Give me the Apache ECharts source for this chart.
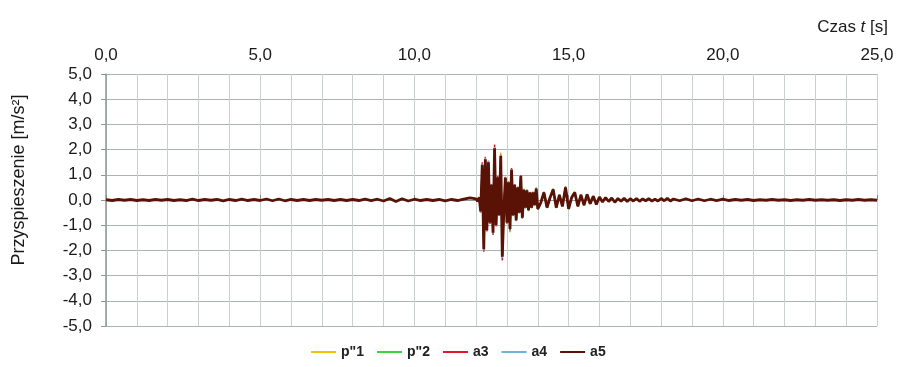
<!DOCTYPE html>
<html>
<head>
<meta charset="utf-8">
<script src="https://cdn.jsdelivr.net/npm/echarts@6/dist/echarts.min.js"></script>
<style>html,body{margin:0;padding:0;background:#fff}#c{width:897px;height:367px}</style>
</head>
<body>
<div id="c"></div>
<script>
// Time segments: [start, step] for each block of samples
const segQuiet1 = [0.0, 0.2];   // 0.0 .. 11.8
const segBurst  = [12.0, 0.05]; // 12.0 .. 14.0
const segDecay  = [14.1, 0.1];  // 14.1 .. 18.4
const segQuiet2 = [18.6, 0.2];  // 18.6 .. 25.0

// a5 values (m/s^2)
const a5Quiet1 = [0.01,-0.02,0.02,-0.01,0.02,-0.02,0.01,-0.02,0.02,-0.01,0.02,-0.02,0.01,-0.02,0.03,-0.02,0.02,-0.01,0.02,-0.03,
  0.02,-0.02,0.03,-0.02,0.02,-0.02,0.04,-0.03,0.04,-0.03,0.02,-0.02,0.02,-0.02,0.02,-0.01,0.02,-0.02,0.02,-0.02,
  0.02,-0.02,0.03,-0.02,0.03,-0.04,0.06,-0.06,0.05,-0.04,0.03,-0.02,0.02,-0.02,0.02,-0.03,0.02,-0.02,0.03,0.08];
const a5Burst = [0.04,-0.05,0.10,-0.45,1.40,-1.95,1.62,-1.20,1.50,-0.90,0.60,-1.30,2.05,-1.00,0.90,-0.60,1.75,-2.25,-0.40,0.88,
  -0.90,0.70,-1.15,1.20,-0.60,0.60,-0.80,0.50,-0.50,0.95,-0.70,0.40,-0.30,0.38,-0.40,0.30,-0.30,0.30,-0.20,0.45,-0.35];
const a5Decay = [-0.10,0.30,-0.30,0.10,0.42,-0.30,0.20,-0.25,0.50,-0.35,0.10,0.30,-0.25,0.20,-0.20,0.22,-0.15,0.15,-0.18,0.12,
  -0.08,0.10,-0.06,0.08,-0.09,0.06,-0.05,0.07,-0.06,0.05,-0.04,0.06,-0.05,0.04,-0.03,0.05,-0.04,0.03,-0.04,0.06,-0.03,0.07,-0.04,0.04];
const a5Quiet2 = [-0.03,0.05,-0.03,0.04,-0.03,0.03,-0.02,0.03,-0.02,0.02,-0.01,0.02,-0.02,0.01,-0.01,0.02,-0.01,0.01,-0.02,0.01,
  -0.01,0.02,-0.01,0.01,-0.01,0.01,-0.02,0.01,-0.01,0.02,-0.01,0.01,-0.01];

// other records in the active window (burst + first 20 decay samples)
const p1Burst = [0.04,-0.04,0.12,-0.42,1.38,-1.90,1.58,-1.15,1.52,-0.88,0.62,-1.25,1.98,-0.95,0.92,-0.58,1.88,-2.20,-0.38,0.90,
  -0.88,0.72,-1.12,1.18,-0.62,0.58,-0.78,0.52,-0.48,0.92,-0.68,0.42,-0.32,0.40,-0.38,0.32,-0.28,0.32,-0.22,0.44,-0.33];
const p1Decay = [-0.12,0.31,-0.28,0.12,0.40,-0.31,0.21,-0.24,0.49,-0.33,0.11,0.29,-0.26,0.21,-0.19,0.21,-0.16,0.14,-0.17,0.11];
const p2Burst = [0.06,-0.06,0.10,-0.48,1.36,-1.92,1.60,-1.22,1.48,-0.92,0.64,-1.28,2.00,-1.02,0.94,-0.62,1.72,-2.22,-0.42,0.90,
  -0.92,0.74,-1.28,1.22,-0.64,0.62,-0.84,0.54,-0.52,0.97,-0.74,0.44,-0.34,0.42,-0.44,0.32,-0.33,0.33,-0.23,0.50,-0.38];
const p2Decay = [-0.11,0.33,-0.32,0.12,0.46,-0.32,0.22,-0.27,0.55,-0.37,0.12,0.33,-0.27,0.22,-0.22,0.24,-0.16,0.17,-0.19,0.13];
const a3Burst = [0.05,-0.06,0.12,-0.50,1.50,-2.05,1.72,-1.25,1.55,-0.95,0.62,-1.39,2.20,-1.05,0.95,-0.62,1.80,-2.40,-0.42,0.92,
  -0.94,0.72,-1.20,1.27,-0.62,0.62,-0.82,0.50,-0.52,0.99,-0.72,0.41,-0.31,0.39,-0.41,0.30,-0.31,0.31,-0.20,0.46,-0.36];
const a3Decay = [-0.10,0.30,-0.31,0.10,0.43,-0.31,0.20,-0.25,0.51,-0.35,0.10,0.30,-0.25,0.20,-0.20,0.22,-0.15,0.15,-0.18,0.12];
const a4Burst = [0.05,-0.05,0.10,-0.47,1.45,-2.00,1.68,-1.20,1.58,-0.90,0.60,-1.33,2.10,-1.02,0.90,-0.60,1.78,-2.30,-0.40,0.89,
  -0.91,0.70,-1.16,1.22,-0.60,0.60,-0.80,0.50,-0.50,0.96,-0.70,0.40,-0.30,0.38,-0.40,0.30,-0.30,0.30,-0.20,0.45,-0.35];
const a4Decay = [-0.10,0.30,-0.30,0.10,0.42,-0.30,0.20,-0.26,0.50,-0.35,0.10,0.30,-0.25,0.20,-0.20,0.22,-0.15,0.15,-0.18,0.12];

const seriesNames = ['p"1', 'p"2', 'a3', 'a4', 'a5'];
const xTickLabels = ['0,0','5,0','10,0','15,0','20,0','25,0'];
const yAxisTitle = 'Przyspieszenie [m/s²]';

function pairs(seg, vals) {
  return vals.map((v, i) => [+(seg[0] + i * seg[1]).toFixed(3), v]);
}
function build(list) {
  let out = [];
  list.forEach(([seg, vals]) => { out = out.concat(pairs(seg, vals)); });
  return out;
}
const dataA5 = build([[segQuiet1, a5Quiet1], [segBurst, a5Burst], [segDecay, a5Decay], [segQuiet2, a5Quiet2]]);
const dataP1 = build([[segBurst, p1Burst], [segDecay, p1Decay]]);
const dataP2 = build([[segBurst, p2Burst], [segDecay, p2Decay]]);
const dataA3 = build([[segBurst, a3Burst], [segDecay, a3Decay]]);
const dataA4 = build([[segBurst, a4Burst], [segDecay, a4Decay]]);

const colors = ['#f2c200', '#3ad43a', '#e0182a', '#6fb4d8', '#5a1206'];
const widths = [1.5, 1.5, 1.5, 1.5, 2.8];
const allData = [dataP1, dataP2, dataA3, dataA4, dataA5];
const FONT = 'Liberation Sans, Arial, sans-serif';
const fmt = v => v.toFixed(1).replace('.', ',');

const chart = echarts.init(document.getElementById('c'), null, {renderer: 'canvas'});
chart.setOption({
  animation: false,
  backgroundColor: '#fff',
  title: {
    text: 'Czas {i|t} [s]',
    right: 4, top: 14,
    textStyle: {
      fontFamily: FONT, fontSize: 17, fontWeight: 'normal', color: '#1a1a1a',
      rich: { i: { fontFamily: FONT, fontSize: 17, fontStyle: 'italic', color: '#1a1a1a' } }
    }
  },
  graphic: [{
    type: 'text', x: 19, y: 180, rotation: Math.PI / 2,
    style: { text: yAxisTitle, fontFamily: FONT, fontSize: 18, fill: '#1a1a1a', align: 'center', verticalAlign: 'middle' }
  }],
  grid: { left: 106, right: 20, top: 74, bottom: 41, containLabel: false },
  legend: {
    bottom: 3, left: 306,
    icon: 'rect',
    itemWidth: 25, itemHeight: 2, itemGap: 13,
    textStyle: { fontFamily: FONT, fontSize: 14, fontWeight: 'bold', color: '#222' },
    data: seriesNames.map(n => ({ name: n, icon: 'rect' }))
  },
  xAxis: {
    type: 'value', position: 'top', min: 0, max: 25, interval: 5,
    axisLine: { show: true, lineStyle: { color: '#8a9896', width: 1 } },
    axisTick: { show: true, inside: false, length: 5, lineStyle: { color: '#7f8d8b' } },
    minorTick: { show: false, splitNumber: 5 },
    minorSplitLine: { show: true, lineStyle: { color: '#c9d0cf', width: 1 } },
    splitLine: { show: true, lineStyle: { color: '#c9d0cf', width: 1 } },
    axisLabel: {
      fontFamily: FONT, fontSize: 17, color: '#1a1a1a', margin: 10,
      formatter: v => xTickLabels[Math.round(v / 5)]
    }
  },
  yAxis: {
    type: 'value', min: -5, max: 5, interval: 1,
    axisLine: { show: true, onZero: false, lineStyle: { color: '#8a9896', width: 1.5 } },
    axisTick: { show: true, inside: false, length: 5, lineStyle: { color: '#8a9896' } },
    splitLine: { show: true, lineStyle: { color: '#a9b5b3', width: 1.2 } },
    axisLabel: { fontFamily: FONT, fontSize: 17, color: '#1a1a1a', margin: 14, formatter: fmt }
  },
  series: seriesNames.map((n, i) => ({
    name: n, type: 'line', symbol: 'none', showSymbol: false,
    data: allData[i], z: 2 + i,
    lineStyle: { color: colors[i], width: widths[i] },
    itemStyle: { color: colors[i] }
  }))
});
</script>
</body>
</html>
